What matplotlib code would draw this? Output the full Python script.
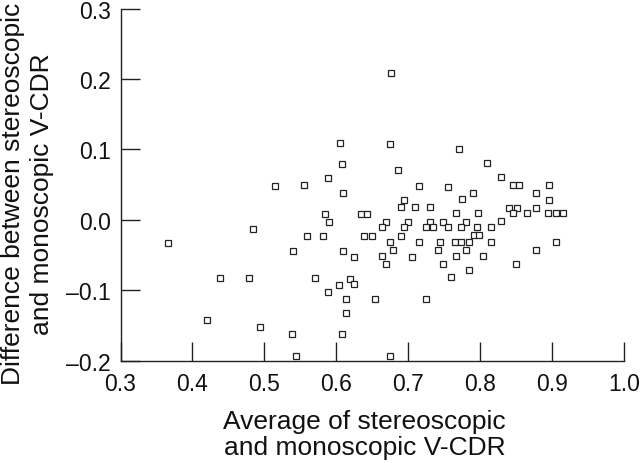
import matplotlib
matplotlib.use("Agg")
from matplotlib import pyplot as plt

plt.rcParams['font.family'] = ['Liberation Sans', 'DejaVu Sans']

# average of stereoscopic and monoscopic V-CDR
avg = [0.676, 0.605, 0.675, 0.608, 0.589, 0.515, 0.555, 0.609, 0.686, 0.771,
       0.809, 0.829, 0.715, 0.755, 0.790, 0.845, 0.854, 0.878, 0.896, 0.694,
       0.775, 0.896, 0.690, 0.710, 0.730, 0.840, 0.851, 0.878, 0.766, 0.797,
       0.846, 0.865, 0.895, 0.905, 0.915, 0.584, 0.635, 0.643, 0.590, 0.669,
       0.700, 0.730, 0.749, 0.780, 0.829, 0.664, 0.694, 0.725, 0.735, 0.755,
       0.774, 0.796, 0.815, 0.484, 0.559, 0.581, 0.639, 0.650, 0.690, 0.791,
       0.798, 0.366, 0.675, 0.715, 0.744, 0.765, 0.774, 0.784, 0.815, 0.905,
       0.540, 0.609, 0.679, 0.741, 0.780, 0.878, 0.625, 0.664, 0.705, 0.766,
       0.804, 0.669, 0.749, 0.850, 0.784, 0.760, 0.439, 0.478, 0.570, 0.619,
       0.624, 0.604, 0.589, 0.614, 0.654, 0.725, 0.614, 0.420, 0.494, 0.539,
       0.608, 0.544, 0.675]
# difference between stereoscopic and monoscopic V-CDR
diff = [0.209, 0.109, 0.108, 0.079, 0.059, 0.048, 0.049, 0.038, 0.070, 0.100,
        0.080, 0.060, 0.048, 0.047, 0.038, 0.049, 0.049, 0.038, 0.049, 0.028,
        0.029, 0.028, 0.018, 0.018, 0.018, 0.017, 0.017, 0.017, 0.009, 0.009,
        0.009, 0.009, 0.009, 0.009, 0.009, 0.008, 0.008, 0.008, -0.003, -0.003,
        -0.003, -0.003, -0.003, -0.003, -0.002, -0.011, -0.011, -0.011, -0.011, -0.011,
        -0.011, -0.011, -0.011, -0.013, -0.023, -0.023, -0.023, -0.023, -0.023, -0.022,
        -0.022, -0.033, -0.032, -0.032, -0.032, -0.032, -0.032, -0.032, -0.031, -0.032,
        -0.044, -0.044, -0.043, -0.043, -0.043, -0.043, -0.053, -0.052, -0.053, -0.052,
        -0.051, -0.063, -0.063, -0.063, -0.071, -0.082, -0.083, -0.083, -0.083, -0.084,
        -0.091, -0.093, -0.103, -0.112, -0.113, -0.112, -0.133, -0.142, -0.152, -0.163,
        -0.163, -0.193, -0.193]

xticks = [0.3, 0.4, 0.5, 0.6, 0.7, 0.8, 0.9, 1.0]
yticks = [-0.2, -0.1, 0.0, 0.1, 0.2, 0.3]

fig = plt.figure(figsize=(6.4, 4.64), dpi=100)
ax = fig.add_axes([0.1883, 0.2209, 0.7867, 0.7586])

ax.plot(avg, diff, linestyle='none', marker='s', markersize=4.7,
        markerfacecolor='white', markeredgecolor='#222222', markeredgewidth=0.9)

ax.set_xlim(0.3, 1.0)
ax.set_ylim(-0.2, 0.3)
ax.set_xticks(xticks)
ax.set_yticks(yticks)
ax.set_xticklabels(['%.1f' % v for v in xticks])
ax.set_yticklabels(['%.1f' % v if v >= 0 else '\u2013%.1f' % -v for v in yticks])

for s in ['top', 'right']:
    ax.spines[s].set_visible(False)
for s in ['left', 'bottom']:
    ax.spines[s].set_linewidth(1.0)
    ax.spines[s].set_color('#222222')

ax.tick_params(direction='in', length=13.5, width=1.0, color='#222222',
               labelsize=16.5, pad=7, labelcolor='#111111')
ax.tick_params(axis='x', pad=8)

ax.set_xlabel('Average of stereoscopic\nand monoscopic V-CDR', fontsize=19,
              linespacing=1.12, color='#111111')
ax.set_ylabel('Difference between stereoscopic\nand monoscopic V-CDR', fontsize=19,
              linespacing=1.28, color='#111111')
ax.xaxis.set_label_coords(0.485, -0.138, transform=ax.transAxes)
ax.xaxis.label.set_verticalalignment('top')
ax.yaxis.set_label_coords(-0.132, 0.475, transform=ax.transAxes)

fig.savefig('out.png', dpi=100)
